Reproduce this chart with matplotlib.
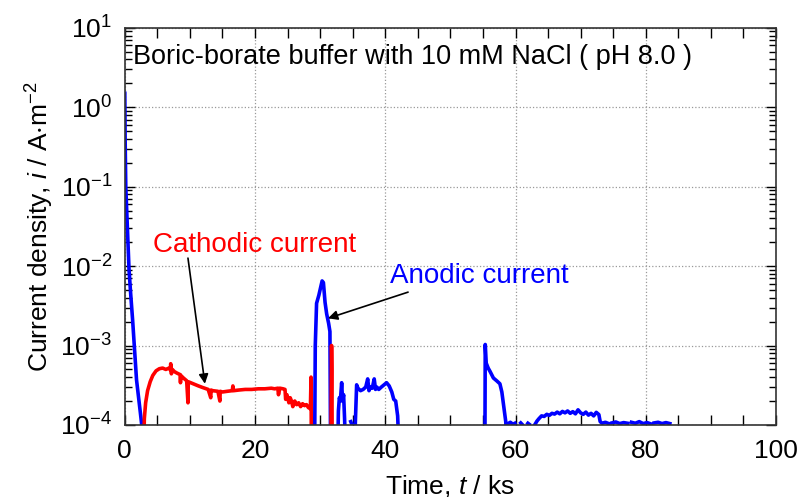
import matplotlib
matplotlib.use("Agg")
import matplotlib.pyplot as plt
import numpy as np
from matplotlib import ticker

plt.rcParams["font.family"] = ["Liberation Sans", "DejaVu Sans"]
plt.rcParams["mathtext.fontset"] = "custom"
plt.rcParams["mathtext.rm"] = "Liberation Sans"
plt.rcParams["mathtext.it"] = "Liberation Sans:italic"
plt.rcParams["mathtext.default"] = "regular"

nan = np.nan

# Anodic current (blue), time in ks, current density in A m^-2
blue_t = [0, 0.05, 0.15, 0.35, 0.65, 0.9, 1.2, 1.5, 1.8, 2.1, 2.4, 2.6, 2.7, nan,
          29.15, 29.25, 29.45, 29.8, 30.1, 30.3, 30.5, 30.75, 31.0, 31.3, 31.5, 31.6, nan,
          32.7, 32.8, 32.95, 33.1, 33.3, 33.45, 33.6, 33.75, 33.9, nan,
          34.7, 34.9, nan,
          35.4, 35.6, 35.8, 36.2, 36.6, 37.0, 37.3, 37.5, 37.7, 38.0, 38.3, 38.5, 38.7,
          39.0, 39.4, 39.8, 40.2, 40.6, 41.0, 41.3, 41.6, 41.9, 42.1, nan,
          55.3, 55.35, 55.5, 55.8, 56.1, 56.6, 57.1, 57.6, 57.9, 58.2, 58.5, 58.7, nan,
          58.8, 59.2, 59.6, 59.9, nan, 60.8, 61.0, nan, 61.9, 62.1, nan,
          63.0, 63.3, 63.6, 64.0, 64.4, 64.8, 65.2, 65.6, 66.0, 66.4, 66.8, 67.2, 67.6,
          68.0, 68.4, 68.8, 69.2, 69.6, 70.0, 70.4, 70.8, 71.2, 71.6, 72.0, 72.4, 72.8,
          73.0, 73.3, 73.8, 74.3, nan, 74.8, 75.4, 76.0, 76.6, 77.2, nan,
          77.8, 78.4, 79.0, 79.6, 80.2, 80.8, nan, 81.3, 81.9, 82.5, 83.1, 83.7]
blue_i = [1.5, 0.4, 0.1, 0.038, 0.009, 0.0045, 0.0021, 0.0009, 3.7e-4, 2.3e-4, 1.4e-4, 1.0e-4, 5e-5, nan,
          5e-5, 1e-3, 3.4e-3, 4.3e-3, 5.5e-3, 6.5e-3, 6.2e-3, 3.5e-3, 2.5e-3, 1.9e-3, 1.5e-3, 5e-5, nan,
          5e-5, 1.5e-4, 2.2e-4, 2.0e-4, 3.4e-4, 2.0e-4, 2.4e-4, 1.2e-4, 5e-5, nan,
          1.1e-4, 1.0e-4, nan,
          1.05e-4, 3.2e-4, 2.9e-4, 2.7e-4, 2.8e-4, 3.0e-4, 3.8e-4, 2.7e-4, 3.0e-4, 2.9e-4, 3.8e-4, 2.8e-4, 3.0e-4,
          2.8e-4, 3.0e-4, 3.2e-4, 3.4e-4, 3.1e-4, 2.6e-4, 2.1e-4, 2.0e-4, 1.3e-4, 5e-5, nan,
          5e-5, 1.03e-3, 6.0e-4, 5.2e-4, 4.7e-4, 3.9e-4, 3.6e-4, 3.3e-4, 2.6e-4, 1.7e-4, 1.1e-4, 5e-5, nan,
          1.03e-4, 1.08e-4, 1.02e-4, 1.05e-4, nan, 1.06e-4, 1.02e-4, nan, 1.05e-4, 1.02e-4, nan,
          1.02e-4, 1.12e-4, 1.2e-4, 1.3e-4, 1.28e-4, 1.36e-4, 1.32e-4, 1.4e-4, 1.37e-4, 1.45e-4, 1.38e-4, 1.48e-4, 1.42e-4,
          1.5e-4, 1.4e-4, 1.47e-4, 1.38e-4, 1.55e-4, 1.42e-4, 1.36e-4, 1.45e-4, 1.33e-4, 1.4e-4, 1.3e-4, 1.44e-4, 1.35e-4,
          1.1e-4, 1.05e-4, 1.08e-4, 1.04e-4, nan, 1.06e-4, 1.09e-4, 1.04e-4, 1.07e-4, 1.05e-4, nan,
          1.08e-4, 1.05e-4, 1.1e-4, 1.04e-4, 1.07e-4, 1.03e-4, nan, 1.06e-4, 1.08e-4, 1.04e-4, 1.07e-4, 1.04e-4]

# Cathodic current (red)
red_t = [2.9, 3.0, 3.2, 3.5, 3.9, 4.3, 4.8, 5.3, 5.8, 6.3, 6.8, 7.0, 7.05, 7.15, 7.3, 7.6,
         8.0, 8.5, 8.55, 8.6, 9.0, 9.5, 9.7, 9.75, 10.5, 11.3, 12.0, 12.8, 13.2, 13.25, 13.5,
         14.3, 14.6, 14.65, 15.0, 15.7, 16.5, 16.6, 16.7, 17.5, 18.5, 19.5, 20.5, 21.5,
         22.5, 23.0, 23.5, 23.6, 23.8, 24.3, 24.6, 24.7, 24.9, 25.2, 25.4, 25.6, 25.8, 26.1,
         26.4, 26.7, 27.0, 27.3, 27.6, 27.9, 28.2, 28.5, 28.6, 28.65, nan,
         31.65, 31.7, 31.75, 31.8, 31.85]
red_i = [5e-5, 1.2e-4, 1.9e-4, 2.7e-4, 3.5e-4, 4.2e-4, 4.8e-4, 5.1e-4, 5.2e-4, 5.0e-4, 5.2e-4, 4.9e-4, 5.9e-4, 4.4e-4, 5.0e-4, 4.7e-4,
         4.5e-4, 4.3e-4, 3.4e-4, 4.2e-4, 3.9e-4, 3.6e-4, 1.9e-4, 3.5e-4, 3.3e-4, 3.1e-4, 2.95e-4, 2.8e-4, 2.2e-4, 2.75e-4, 2.7e-4,
         2.65e-4, 2.0e-4, 2.65e-4, 2.6e-4, 2.65e-4, 2.7e-4, 3.1e-4, 2.7e-4, 2.75e-4, 2.8e-4, 2.8e-4, 2.85e-4, 2.85e-4,
         2.9e-4, 2.85e-4, 2.9e-4, 2.4e-4, 2.9e-4, 2.85e-4, 2.8e-4, 2.1e-4, 2.4e-4, 1.9e-4, 2.2e-4, 2.0e-4, 1.7e-4, 2.0e-4,
         1.8e-4, 1.9e-4, 1.7e-4, 1.85e-4, 1.75e-4, 1.8e-4, 1.65e-4, 1.6e-4, 4.0e-4, 5e-5, nan,
         5e-5, 2e-4, 1e-3, 5e-4, 5e-5]

fig = plt.figure(figsize=(8, 4.97), dpi=100)
ax = fig.add_axes([0.156, 0.145, 0.814, 0.799])

ax.plot(blue_t, blue_i, color="#0000ff", lw=2.6, solid_joinstyle="round")
ax.plot(red_t, red_i, color="#ff0000", lw=2.6, solid_joinstyle="round")

ax.set_yscale("log")
ax.set_xlim(0, 100)
ax.set_ylim(1e-4, 1e1)

ax.xaxis.set_major_locator(ticker.MultipleLocator(20))
ax.xaxis.set_minor_locator(ticker.MultipleLocator(5))
ax.yaxis.set_major_locator(ticker.LogLocator(base=10, numticks=10))
ax.yaxis.set_minor_locator(ticker.LogLocator(base=10, subs=np.arange(2, 10), numticks=10))
ax.yaxis.set_minor_formatter(ticker.NullFormatter())
ax.yaxis.set_major_formatter(ticker.FuncFormatter(lambda v, p: "10$^{%d}$" % round(np.log10(v))))

ax.tick_params(which="both", direction="in", top=True, right=True, labelsize=19)
ax.tick_params(axis="x", pad=10)
ax.tick_params(axis="y", pad=9)
ax.tick_params(which="major", length=7, width=1)
ax.tick_params(which="minor", length=5, width=1)
ax.tick_params(axis="x", which="minor", length=7)
ax.grid(True, which="major", color="#999999", linestyle=":", linewidth=0.9)
for s in ax.spines.values():
    s.set_linewidth(1.2)
    s.set_color("#333333")

ax.set_xlabel("Time, $\\it{t}$ / ks", fontsize=19, labelpad=7)
ax.set_ylabel("Current density, $\\it{i}$ / A$\\cdot$m$^{-2}$", fontsize=19, labelpad=3)

ax.text(0.012, 0.96, "Boric-borate buffer with 10 mM NaCl ( pH 8.0 )", transform=ax.transAxes,
        fontsize=19.5, va="top", ha="left")

# labels and arrows
ax.text(4.3, 1.85e-2, "Cathodic current", fontsize=20, color="#ff0000", va="center", ha="left")
ax.text(40.8, 7.5e-3, "Anodic current", fontsize=20, color="#0000ff", va="center", ha="left")
arrow = dict(arrowstyle="-|>", color="black", lw=1.2, shrinkA=0, shrinkB=0, mutation_scale=14)
ax.annotate("", xy=(12.3, 3.3e-4), xytext=(9.7, 1.26e-2), arrowprops=arrow)
ax.annotate("", xy=(31.2, 2.2e-3), xytext=(43.5, 4.7e-3), arrowprops=arrow)

fig.savefig("out.png", dpi=100)
